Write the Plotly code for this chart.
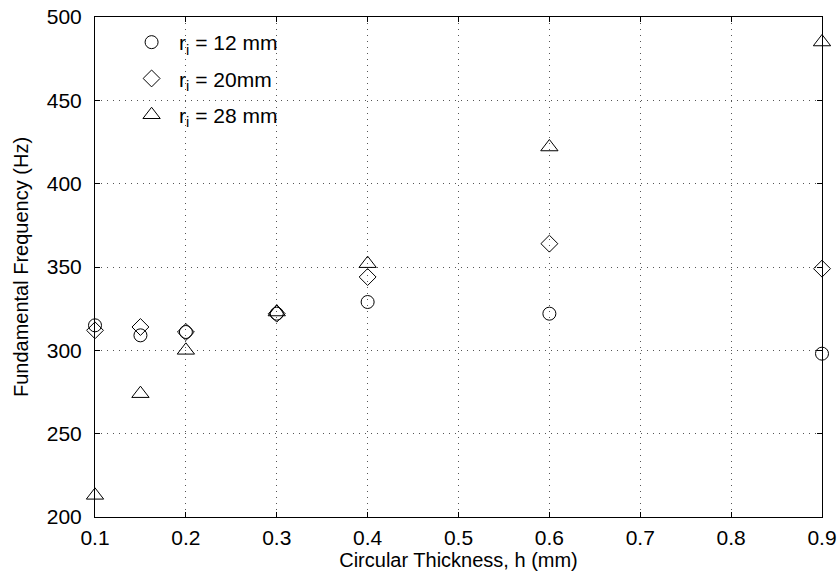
import plotly.graph_objects as go

h = [0.1, 0.15, 0.2, 0.3, 0.4, 0.6, 0.9]
f_r12 = [315, 309, 311, 322, 329, 322, 298]
f_r20 = [312, 314, 311, 322, 344, 364, 349]
f_r28 = [213, 274, 300, 323, 352, 422, 485]

names = ["r<sub>i</sub> = 12 mm", "r<sub>i</sub> = 20mm", "r<sub>i</sub> = 28 mm"]
series = [f_r12, f_r20, f_r28]
symbols = ["circle-open", "diamond-open", "triangle-up-open"]
sizes = [13, 13, 15]

FONT = "Liberation Sans, Arial, sans-serif"

fig = go.Figure()
for i, (name, ys, sym, sz) in enumerate(zip(names, series, symbols, sizes)):
    fig.add_trace(go.Scatter(
        x=h, y=ys, mode="markers", name=name, legendgroup="g%d" % i,
        marker=dict(symbol=sym, size=sz, color="black", line=dict(width=1, color="black")),
        cliponaxis=False,
    ))

axis_common = dict(
    showline=True, linecolor="black", linewidth=1, mirror="ticks",
    ticks="inside", ticklen=5, tickcolor="black",
    showgrid=True, gridcolor="#555555", gridwidth=1, griddash="1px,5px",
    zeroline=False, automargin=False,
    tickfont=dict(size=21, color="black", family=FONT),
)

# white legend box area (covers grid lines like the original legend box)
fig.add_shape(type="rect", xref="paper", yref="paper",
              x0=0.003, x1=0.295, y0=0.755, y1=0.997,
              fillcolor="white", line=dict(width=0), layer="between")

fig.update_layout(
    width=837, height=580,
    margin=dict(l=95, r=15, t=17, b=63),
    paper_bgcolor="white", plot_bgcolor="white",
    font=dict(family=FONT, color="black", size=20),
    xaxis=dict(range=[0.1, 0.9], dtick=0.1, tickformat=".1f",
               ticklabelstandoff=2,
               title=dict(text="Circular Thickness, h (mm)", font=dict(size=20), standoff=4),
               **axis_common),
    yaxis=dict(range=[200, 500], dtick=50, ticklabelstandoff=8,
               title=dict(text="Fundamental Frequency (Hz)", font=dict(size=20), standoff=12),
               **axis_common),
    legend=dict(x=0.04, y=0.99, xanchor="left", yanchor="top",
                bgcolor="rgba(0,0,0,0)", borderwidth=0, font=dict(size=21),
                tracegroupgap=6, itemsizing="trace", itemwidth=45),
    showlegend=True,
)

fig.write_html("out.html")
